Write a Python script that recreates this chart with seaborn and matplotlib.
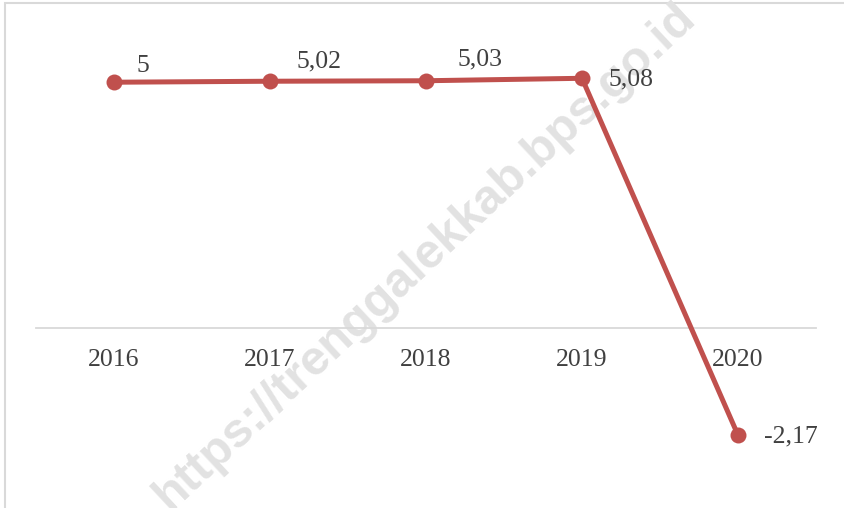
import matplotlib
matplotlib.use("Agg")
import matplotlib.pyplot as plt
import seaborn as sns
import pandas as pd
from matplotlib.patches import Rectangle

# Growth rate by year
years = ["2016", "2017", "2018", "2019", "2020"]
growth = [5.00, 5.02, 5.03, 5.08, -2.17]

# Label placement (offset in points, horizontal alignment)
label_offsets = [(21, 12), (35, 14), (39, 15), (19, -1), (19, -1)]
label_align = ["center", "center", "center", "left", "left"]

LINE_RED = "#C0504D"
TEXT_GREY = "#404040"
RULE_GREY = "#D9D9D9"

sns.set_theme(style="white")
plt.rcParams["font.family"] = ["Liberation Serif", "DejaVu Serif"]

df = pd.DataFrame({"year": years, "growth": growth})

fig = plt.figure(figsize=(8.45, 5.08), dpi=100)
ax = fig.add_axes([36 / 845, 1 - 476 / 508, 780 / 845, 443 / 508])
ax.set_facecolor("none")

sns.lineplot(data=df, x="year", y="growth", ax=ax, color=LINE_RED,
             linewidth=3.6, marker="o", markersize=11.5,
             markeredgewidth=0, sort=False, zorder=5)

ax.set_xlim(-0.5, len(years) - 0.5)
ax.set_ylim(-3, 6)

for i, (v, off, ha) in enumerate(zip(growth, label_offsets, label_align)):
    ax.annotate(f"{v:g}".replace(".", ","), xy=(i, v), xytext=off,
                textcoords="offset points", ha=ha, va="center",
                fontsize=18.5, color=TEXT_GREY, zorder=6)

# Category axis sits on the zero line
for side in ("top", "right", "left"):
    ax.spines[side].set_visible(False)
ax.spines["bottom"].set_position(("data", 0))
ax.spines["bottom"].set_color(RULE_GREY)
ax.spines["bottom"].set_linewidth(1.3)
ax.set_yticks([])
ax.tick_params(axis="x", length=0, pad=15, labelsize=18.5, labelcolor=TEXT_GREY)
ax.set_xlabel("")
ax.set_ylabel("")

# Chart frame
fig.patches.append(Rectangle((5 / 845, -0.05), 1.0, 1.05 - 2.5 / 508,
                             transform=fig.transFigure, fill=False,
                             edgecolor=RULE_GREY, linewidth=1.5, zorder=-2))

# Watermark
fig.text(425 / 845, 1 - 257 / 508, "https://trenggalekkab.bps.go.id",
         rotation=43, rotation_mode="anchor", ha="center", va="center",
         fontsize=35, fontweight="bold", family="Liberation Sans",
         color="#E2E2E2", zorder=-1)

fig.savefig("out.png", dpi=100, facecolor="white")
